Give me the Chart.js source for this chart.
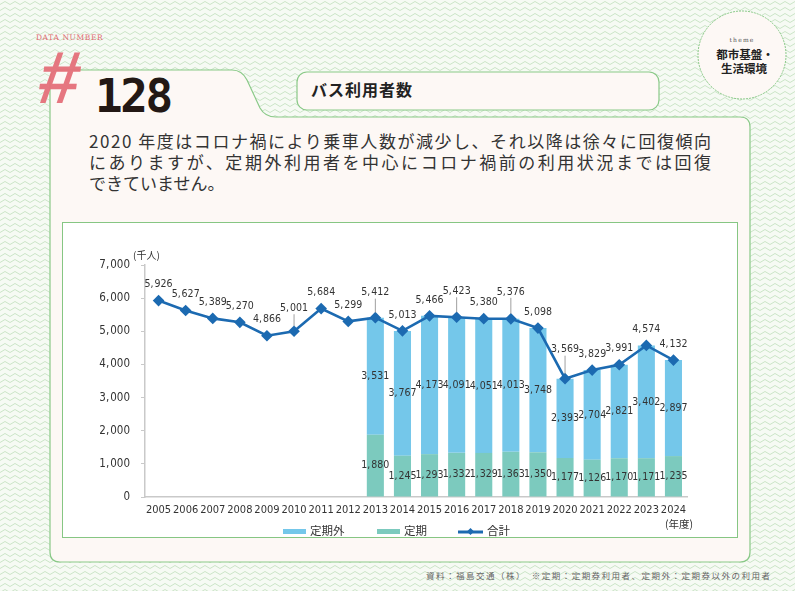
<!DOCTYPE html>
<html lang="ja">
<head>
<meta charset="UTF-8" />
<title>バス利用者数</title>
<script src="https://cdn.jsdelivr.net/npm/chart.js"></script>
<style>
  body {
    margin: 0;
    width: 795px;
    height: 591px;
    overflow: hidden;
    position: relative;
    background-color: #f6faf4;
    background-image: url("data:image/svg+xml,%3Csvg xmlns='http://www.w3.org/2000/svg' width='10' height='6'%3E%3Cpath d='M0 4.5L5 1.5L10 4.5' fill='none' stroke='%23c6e2c2' stroke-width='0.9'/%3E%3C/svg%3E");
    font-family: "Noto Sans CJK JP", sans-serif;
    color: #333;
  }
  #frame { position: absolute; left: 0; top: 0; }
  #chartBox {
    position: absolute;
    left: 62px; top: 222px;
    width: 676px; height: 316px;
    box-sizing: border-box;
    border: 1px solid #86c683;
    background: #fff;
  }
  #chartBox canvas { position: absolute; left: 0; top: 0; }
  .note { position: absolute; font-size: 10px; color: #333; white-space: nowrap; }
  .legend { position: absolute; top: 522px; font-size: 11.5px; color: #333; white-space: nowrap; }
  .legend span.sw { position: absolute; top: 7px; width: 23px; height: 5px; }
</style>
</head>
<body>
<svg id="frame" width="795" height="591">
  <path d="M50 80 Q50 70 60 70 L232 70 Q242 70 247 80 L260 108 Q265 117 276 117 L740 117 Q750 117 750 127 L750 552 Q750 562 740 562 L60 562 Q50 562 50 552 Z"
        fill="#fdf8f5" stroke="#8ac988" stroke-width="1.2" />
  <rect x="297" y="72" width="362" height="38" rx="10" fill="#fdf8f5" stroke="#8ac988" stroke-width="1.2" />
  <circle cx="742" cy="55" r="44" fill="#fdf8f5" stroke="#8ac988" stroke-width="1" stroke-dasharray="2 1" />
  <text x="36" y="40" font-family="DejaVu Serif" font-size="7.5" letter-spacing="0.6" fill="#e06a72">DATA NUMBER</text>
  <g transform="translate(36 103) skewX(-8)">
    <text x="0" y="0" font-family="Liberation Sans" font-weight="bold" font-size="74" fill="#e5707a" opacity="0.95">#</text>
  </g>
  <text x="95" y="112" font-family="DejaVu Sans Mono" font-weight="bold" font-size="46" letter-spacing="-2.5" fill="#231815">128</text>
  <text x="311" y="96" font-size="16" font-weight="bold" letter-spacing="1" fill="#222">バス利用者数</text>
  <text x="742" y="42" text-anchor="middle" font-family="DejaVu Serif" font-size="6" letter-spacing="1.2" fill="#555">theme</text>
  <text x="745" y="59" text-anchor="middle" font-size="11.5" font-weight="bold" fill="#222">都市基盤・</text>
  <text x="744" y="73" text-anchor="middle" font-size="11.5" font-weight="bold" fill="#222">生活環境</text>
  <text x="89" y="148" font-size="17" fill="#333" textLength="622" lengthAdjust="spacing">2020 年度はコロナ禍により乗車人数が減少し、それ以降は徐々に回復傾向</text>
  <text x="89" y="169" font-size="17" fill="#333" textLength="622" lengthAdjust="spacing">にありますが、定期外利用者を中心にコロナ禍前の利用状況までは回復</text>
  <text x="89" y="190" font-size="17" fill="#333">できていません。</text>
  <text x="426" y="579" font-size="8.5" fill="#666" textLength="344" lengthAdjust="spacing">資料：福島交通（株）　※定期：定期券利用者、定期外：定期券以外の利用者</text>
</svg>

<div id="chartBox"><canvas id="busChart" width="674" height="314"></canvas></div>

<div class="note" style="left:133px; top:247px;">(千人)</div>
<div class="note" style="left:665px; top:516px; font-size:10.5px;">(年度)</div>

<div class="legend" style="left:283px;"><span class="sw" style="left:0; background:#74c7ea;"></span><span style="margin-left:27px;">定期外</span></div>
<div class="legend" style="left:377px;"><span class="sw" style="left:0; background:#7ccabe;"></span><span style="margin-left:27px;">定期</span></div>
<div class="legend" style="left:458px;">
  <svg width="26" height="12" style="position:absolute; left:0; top:4px;">
    <line x1="0" y1="6" x2="25" y2="6" stroke="#1c6ab1" stroke-width="3" />
    <rect x="10" y="3" width="5" height="5" fill="#1c6ab1" transform="rotate(45 12.5 5.5)" />
  </svg>
  <span style="margin-left:29px;">合計</span>
</div>

<script>
  // 年度
  const years = ["2005", "2006", "2007", "2008", "2009", "2010", "2011", "2012", "2013", "2014",
    "2015", "2016", "2017", "2018", "2019", "2020", "2021", "2022", "2023", "2024"];
  // 定期外 (千人) - bars start in 2013
  const teikigai = [null, null, null, null, null, null, null, null, 3531, 3767,
    4173, 4091, 4051, 4013, 3748, 2393, 2704, 2821, 3402, 2897];
  // 定期 (千人)
  const teiki = [null, null, null, null, null, null, null, null, 1880, 1245,
    1293, 1332, 1329, 1363, 1350, 1177, 1126, 1170, 1171, 1235];
  // 合計 (千人)
  const total = [5926, 5627, 5389, 5270, 4866, 5001, 5684, 5299, 5412, 5013,
    5466, 5423, 5380, 5376, 5098, 3569, 3829, 3991, 4574, 4132];
  const yMax = 7000;
  const yStep = 1000;

  // labels that sit higher with a leader line, px above the point
  const leaderLift = { "2010": 23, "2013": 25, "2016": 26, "2018": 27, "2020": 29 };

  const FONT = "'DejaVu Sans Condensed', 'Liberation Sans Narrow', 'Noto Sans', sans-serif";
  const fmt = (v) => v.toLocaleString("en-US").replace(",", ",\u200A");

  const valueLabels = {
    id: "valueLabels",
    afterDatasetsDraw(chart) {
      const ctx = chart.ctx;
      ctx.save();
      ctx.font = "10.5px " + FONT;
      ctx.fillStyle = "#333";
      ctx.textAlign = "center";
      ctx.textBaseline = "middle";
      // stacked bar segments: value in the middle of each segment
      [0, 1].forEach((di) => {
        const values = chart.data.datasets[di].data;
        chart.getDatasetMeta(di).data.forEach((bar, i) => {
          if (values[i] == null) return;
          ctx.fillText(fmt(values[i]), bar.x, (bar.y + bar.base) / 2);
        });
      });
      // totals above the line
      chart.getDatasetMeta(2).data.forEach((pt, i) => {
        const lift = leaderLift[years[i]] || 16;
        if (leaderLift[years[i]]) {
          ctx.strokeStyle = "#888";
          ctx.lineWidth = 0.8;
          ctx.beginPath();
          ctx.moveTo(pt.x, pt.y - lift + 6);
          ctx.lineTo(pt.x, pt.y - 5);
          ctx.stroke();
        }
        ctx.fillText(fmt(total[i]), pt.x, pt.y - lift);
      });
      ctx.restore();
    },
  };

  Chart.defaults.font.family = FONT;
  Chart.defaults.color = "#333";

  new Chart(document.getElementById("busChart"), {
    data: {
      labels: years,
      datasets: [
        {
          type: "bar",
          label: "定期",
          data: teiki,
          backgroundColor: "#7ccabe",
          stack: "riders",
          order: 1,
          barPercentage: 0.63,
          categoryPercentage: 1,
        },
        {
          type: "bar",
          label: "定期外",
          data: teikigai,
          backgroundColor: "#74c7ea",
          stack: "riders",
          order: 1,
          barPercentage: 0.63,
          categoryPercentage: 1,
        },
        {
          type: "line",
          label: "合計",
          data: total,
          borderColor: "#1c6ab1",
          backgroundColor: "#1c6ab1",
          borderWidth: 2.6,
          pointStyle: "rectRot",
          pointRadius: 4,
          tension: 0,
          stack: "sum",
          order: 0,
        },
      ],
    },
    options: {
      responsive: false,
      animation: false,
      layout: { padding: { left: 0, right: 50, top: 42, bottom: 18 } },
      plugins: {
        legend: { display: false },
        tooltip: { enabled: false },
      },
      scales: {
        x: {
          stacked: true,
          grid: { display: false, drawTicks: false },
          border: { display: true, color: "#c9c9c9", width: 1.5 },
          ticks: { font: { size: 11 }, padding: 7, maxRotation: 0, autoSkip: false },
          afterFit: (s) => { s.height = 22; },
        },
        y: {
          stacked: true,
          min: 0,
          max: yMax,
          grid: { drawOnChartArea: false, drawTicks: true, tickLength: 4, color: "#c9c9c9" },
          border: { display: true, color: "#c9c9c9", width: 1.5 },
          ticks: {
            stepSize: yStep,
            padding: 11,
            font: { size: 11.5 },
            callback: (v) => fmt(v),
          },
          afterFit: (s) => { s.width = 82; },
        },
      },
    },
    plugins: [valueLabels],
  });
</script>
</body>
</html>
